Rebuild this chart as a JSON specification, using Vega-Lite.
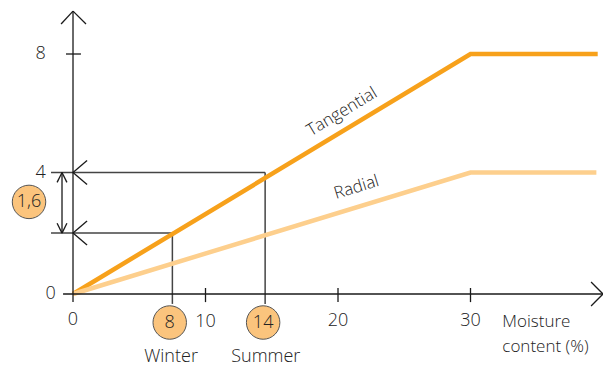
{
  "$schema": "https://vega.github.io/schema/vega-lite/v6.json",
  "width": 603,
  "height": 367,
  "padding": 0,
  "autosize": "none",
  "background": "white",
  "config": {"view": {"stroke": null}, "font": "Open Sans", "text": {"fontWeight": 300}},
  "datasets": {
    "lines": [
      {"series": "Tangential", "moisture": 0, "shrink": 0},
      {"series": "Tangential", "moisture": 30, "shrink": 8},
      {"series": "Tangential", "moisture": 39.6, "shrink": 8},
      {"series": "Radial", "moisture": 0, "shrink": 0},
      {"series": "Radial", "moisture": 30, "shrink": 4.05},
      {"series": "Radial", "moisture": 39.5, "shrink": 4.05}
    ],
    "axes": [
      {"x1": 0, "y1": -0.27, "x2": 0, "y2": 9.43},
      {"x1": 0, "y1": 9.43, "x2": -0.9, "y2": 9.0},
      {"x1": 0, "y1": 9.43, "x2": 0.98, "y2": 9.0},
      {"x1": -0.75, "y1": 0, "x2": 40, "y2": 0},
      {"x1": 40, "y1": 0, "x2": 39.1, "y2": 0.4},
      {"x1": 40, "y1": 0, "x2": 39.1, "y2": -0.4},
      {"x1": 10, "y1": -0.27, "x2": 10, "y2": 0.2},
      {"x1": 20, "y1": -0.27, "x2": 20, "y2": 0.2},
      {"x1": 30, "y1": -0.27, "x2": 30, "y2": 0.2},
      {"x1": -0.53, "y1": 8, "x2": 0.6, "y2": 8},
      {"x1": 0, "y1": 4.05, "x2": 1.06, "y2": 4.45},
      {"x1": 0, "y1": 4.05, "x2": 1.06, "y2": 3.65},
      {"x1": 0, "y1": 2.03, "x2": 1.06, "y2": 2.43},
      {"x1": 0, "y1": 2.03, "x2": 1.06, "y2": 1.63},
      {"x1": -0.83, "y1": 2.03, "x2": -0.83, "y2": 4.05},
      {"x1": -0.83, "y1": 4.05, "x2": -1.2, "y2": 3.72},
      {"x1": -0.83, "y1": 4.05, "x2": -0.46, "y2": 3.72},
      {"x1": -0.83, "y1": 2.03, "x2": -1.2, "y2": 2.36},
      {"x1": -0.83, "y1": 2.03, "x2": -0.46, "y2": 2.36}
    ],
    "guides": [
      {"x1": -1.66, "y1": 4.05, "x2": 14.5, "y2": 4.05},
      {"x1": -1.66, "y1": 2.03, "x2": 7.5, "y2": 2.03},
      {"x1": 7.5, "y1": 2.03, "x2": 7.5, "y2": -0.33},
      {"x1": 14.5, "y1": 4.05, "x2": 14.5, "y2": -0.33}
    ],
    "badges": [
      {"label": "1,6", "x": -3.32, "y": 3.07},
      {"label": "8", "x": 7.3, "y": -0.95},
      {"label": "14", "x": 14.35, "y": -0.95}
    ],
    "xlabels": [
      {"label": "0", "x": 0, "y": -0.88},
      {"label": "10", "x": 10, "y": -0.93},
      {"label": "20", "x": 20, "y": -0.9},
      {"label": "30", "x": 30, "y": -0.9},
      {"label": "Winter", "x": 7.4, "y": -2.1},
      {"label": "Summer", "x": 14.55, "y": -2.1}
    ],
    "ylabels": [
      {"label": "8", "x": -2.05, "y": 8},
      {"label": "4", "x": -2.05, "y": 4.05},
      {"label": "0", "x": -1.3, "y": 0}
    ],
    "xtitle": [
      {"label": "Moisture", "x": 32.4, "y": -0.93},
      {"label": "content (%)", "x": 32.4, "y": -1.78}
    ],
    "tlabel": [{"label": "Tangential", "x": 20.3, "y": 6.07}],
    "rlabel": [{"label": "Radial", "x": 21.4, "y": 3.55}]
  },
  "layer": [
    {
      "data": {"name": "guides"},
      "mark": {"type": "rule", "color": "#444", "strokeWidth": 1.5},
      "encoding": {
        "x": {"field": "x1", "type": "quantitative", "scale": {"domain": [-5.51, 40.0], "nice": false, "zero": false}, "axis": null},
        "y": {"field": "y1", "type": "quantitative", "scale": {"domain": [-2.433, 9.8], "nice": false, "zero": false}, "axis": null},
        "x2": {"field": "x2"},
        "y2": {"field": "y2"}
      }
    },
    {
      "data": {"name": "lines"},
      "mark": {"type": "line", "strokeWidth": 4.5, "strokeCap": "butt"},
      "encoding": {
        "x": {"field": "moisture", "type": "quantitative"},
        "y": {"field": "shrink", "type": "quantitative"},
        "color": {"field": "series", "type": "nominal", "scale": {"domain": ["Tangential", "Radial"], "range": ["#F7A11B", "#FDCF8D"]}, "legend": null},
        "order": {"field": "moisture"}
      }
    },
    {
      "data": {"name": "axes"},
      "mark": {"type": "rule", "color": "#1a1a1a", "strokeWidth": 1.3},
      "encoding": {
        "x": {"field": "x1", "type": "quantitative"},
        "y": {"field": "y1", "type": "quantitative"},
        "x2": {"field": "x2"},
        "y2": {"field": "y2"}
      }
    },
    {
      "data": {"name": "badges"},
      "mark": {"type": "point", "shape": "circle", "filled": true, "fill": "#FBC47D", "stroke": "#555", "strokeWidth": 1, "opacity": 1, "size": 1120},
      "encoding": {
        "x": {"field": "x", "type": "quantitative"},
        "y": {"field": "y", "type": "quantitative"}
      }
    },
    {
      "data": {"name": "badges"},
      "mark": {"type": "text", "fontSize": 18, "color": "#222", "align": "center", "baseline": "middle"},
      "encoding": {
        "x": {"field": "x", "type": "quantitative"},
        "y": {"field": "y", "type": "quantitative"},
        "text": {"field": "label"}
      }
    },
    {
      "data": {"name": "xlabels"},
      "mark": {"type": "text", "fontSize": 18, "color": "#222", "align": "center", "baseline": "middle"},
      "encoding": {
        "x": {"field": "x", "type": "quantitative"},
        "y": {"field": "y", "type": "quantitative"},
        "text": {"field": "label"}
      }
    },
    {
      "data": {"name": "ylabels"},
      "mark": {"type": "text", "fontSize": 18, "color": "#222", "align": "right", "baseline": "middle"},
      "encoding": {
        "x": {"field": "x", "type": "quantitative"},
        "y": {"field": "y", "type": "quantitative"},
        "text": {"field": "label"}
      }
    },
    {
      "data": {"name": "xtitle"},
      "mark": {"type": "text", "fontSize": 17, "color": "#222", "align": "left", "baseline": "middle"},
      "encoding": {
        "x": {"field": "x", "type": "quantitative"},
        "y": {"field": "y", "type": "quantitative"},
        "text": {"field": "label"}
      }
    },
    {
      "data": {"name": "tlabel"},
      "mark": {"type": "text", "fontSize": 17, "color": "#222", "align": "center", "baseline": "middle", "angle": 329},
      "encoding": {
        "x": {"field": "x", "type": "quantitative"},
        "y": {"field": "y", "type": "quantitative"},
        "text": {"field": "label"}
      }
    },
    {
      "data": {"name": "rlabel"},
      "mark": {"type": "text", "fontSize": 17, "color": "#222", "align": "center", "baseline": "middle", "angle": 343},
      "encoding": {
        "x": {"field": "x", "type": "quantitative"},
        "y": {"field": "y", "type": "quantitative"},
        "text": {"field": "label"}
      }
    }
  ]
}
